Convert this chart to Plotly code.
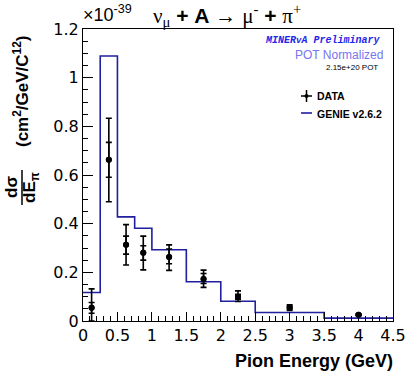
import plotly.graph_objects as go

# Histogram (GENIE v2.6.2) bin edges and values (x1e-39)
bin_edges = [0.0, 0.25, 0.5, 0.75, 1.0, 1.5, 2.0, 2.5, 3.5, 4.5]
genie_vals = [0.117, 1.089, 0.428, 0.381, 0.293, 0.161, 0.081, 0.035, 0.012]

# Data points
data_x = [0.125, 0.375, 0.625, 0.875, 1.25, 1.75, 2.25, 3.0, 4.0]
data_y = [0.054, 0.663, 0.313, 0.280, 0.263, 0.173, 0.100, 0.055, 0.026]
tot_up = [0.078, 0.170, 0.083, 0.069, 0.050, 0.036, 0.024, 0.012, 0.004]
tot_dn = [0.054, 0.173, 0.083, 0.070, 0.055, 0.035, 0.020, 0.012, 0.004]
stat_up = [0.022, 0.071, 0.036, 0.029, 0.033, 0.022, 0.010, 0.006, 0.002]
stat_dn = [0.022, 0.072, 0.038, 0.030, 0.028, 0.019, 0.010, 0.006, 0.002]

x_ticks = [0, 0.5, 1, 1.5, 2, 2.5, 3, 3.5, 4, 4.5]
y_ticks = [0, 0.2, 0.4, 0.6, 0.8, 1.0, 1.2]

hist_color = "#1f1fa0"
font_fam = "Liberation Sans, Arial, sans-serif"
tick_fam = "DejaVu Sans, Verdana, sans-serif"

# plot area in pixels
L, R, T, B = 83, 393, 29, 321
W, H = R - L, B - T


def px(x):
    return (x - L) / W


def py(y):
    return (B - y) / H


fig = go.Figure()
fig.add_trace(go.Scatter(
    x=bin_edges, y=genie_vals + [genie_vals[-1]], mode="lines",
    line=dict(shape="hv", color=hist_color, width=1.6), showlegend=False,
    hoverinfo="skip"))
fig.add_trace(go.Scatter(
    x=data_x, y=data_y, mode="markers",
    marker=dict(color="black", size=6),
    error_y=dict(type="data", symmetric=False, array=tot_up, arrayminus=tot_dn,
                 color="black", thickness=1.6, width=3),
    showlegend=False))
fig.add_trace(go.Scatter(
    x=data_x, y=data_y, mode="markers",
    marker=dict(color="black", size=6),
    error_y=dict(type="data", symmetric=False, array=stat_up, arrayminus=stat_dn,
                 color="black", thickness=1.6, width=3),
    showlegend=False))

annotations = [
    dict(text="×10<sup>-39</sup>", x=px(81), y=py(14), xref="paper", yref="paper",
         xanchor="left", yanchor="middle", showarrow=False,
         font=dict(size=18, family=font_fam, color="black")),
    dict(text="<span style='font-family:Liberation Serif'>ν<sub>μ</sub></span> <b>+ A</b> → "
              "<span style='font-family:Liberation Serif'>μ<sup>-</sup></span> <b>+</b> "
              "<span style='font-family:Liberation Serif'>π<sup>+</sup></span>",
         x=px(227), y=py(16), xref="paper", yref="paper", xanchor="center",
         yanchor="middle", showarrow=False,
         font=dict(size=21, family=font_fam, color="black")),
    dict(text="<b><i>MINER<span style='font-size:9px'>v</span>A Preliminary</i></b>",
         x=px(382), y=py(40), xref="paper", yref="paper", xanchor="right", yanchor="middle",
         showarrow=False, font=dict(size=10, family="Liberation Mono, Courier New, monospace",
                                    color="#2424e8")),
    dict(text="POT Normalized", x=px(385), y=py(55), xref="paper", yref="paper",
         xanchor="right", yanchor="middle", showarrow=False,
         font=dict(size=12, family=font_fam, color="#7676ee")),
    dict(text="2.15e+20 POT", x=px(380), y=py(67), xref="paper", yref="paper",
         xanchor="right", yanchor="middle", showarrow=False,
         font=dict(size=8, family=font_fam, color="black")),
    dict(text="<b>DATA</b>", x=px(315), y=py(96), xref="paper", yref="paper",
         xanchor="left", yanchor="middle", showarrow=False,
         font=dict(size=10.5, family=font_fam, color="black")),
    dict(text="<b>GENIE v2.6.2</b>", x=px(315), y=py(114), xref="paper", yref="paper",
         xanchor="left", yanchor="middle", showarrow=False,
         font=dict(size=10.5, family=font_fam, color="black")),
    dict(text="<b>Pion Energy (GeV)</b>", x=px(395), y=py(361), xref="paper", yref="paper",
         xanchor="right", yanchor="middle", showarrow=False,
         font=dict(size=18, family=font_fam, color="black")),
    dict(text="<b>(cm<sup>2</sup>/GeV/C<sup>12</sup>)</b>", x=px(21), y=py(91),
         xref="paper", yref="paper", xanchor="center", yanchor="middle",
         textangle=-90, showarrow=False,
         font=dict(size=17, family=font_fam, color="black")),
    dict(text="<b>dσ</b>", x=px(12), y=py(187), xref="paper", yref="paper",
         xanchor="center", yanchor="middle", textangle=-90, showarrow=False,
         font=dict(size=17, family=font_fam, color="black")),
    dict(text="<b>dE<sub>π</sub></b>", x=px(31), y=py(187), xref="paper", yref="paper",
         xanchor="center", yanchor="middle", textangle=-90, showarrow=False,
         font=dict(size=17, family=font_fam, color="black")),
]

shapes = [
    # fraction bar
    dict(type="line", xref="paper", yref="paper", x0=px(22), x1=px(22), y0=py(205), y1=py(170),
         line=dict(color="black", width=1.5)),
    # legend: data cross
    dict(type="line", xref="paper", yref="paper", x0=px(301), x1=px(312), y0=py(96), y1=py(96),
         line=dict(color="black", width=1.5)),
    dict(type="line", xref="paper", yref="paper", x0=px(306.5), x1=px(306.5), y0=py(90), y1=py(102),
         line=dict(color="black", width=1.5)),
    dict(type="circle", xref="paper", yref="paper", x0=px(304.5), x1=px(308.5), y0=py(98), y1=py(94),
         fillcolor="black", line=dict(color="black", width=0)),
    # legend: genie line
    dict(type="line", xref="paper", yref="paper", x0=px(301), x1=px(312), y0=py(113), y1=py(113),
         line=dict(color=hist_color, width=1.6)),
]

fig.update_layout(
    width=407, height=373, autosize=False,
    margin=dict(l=L, r=407 - R, t=T, b=373 - B, autoexpand=False),
    paper_bgcolor="white", plot_bgcolor="white",
    showlegend=False,
    annotations=annotations, shapes=shapes,
    font=dict(family=font_fam, color="black"),
)
fig.update_xaxes(
    range=[0, 4.5], tickvals=x_ticks, ticktext=[f"{v:g}" for v in x_ticks],
    ticks="inside", ticklen=9, tickwidth=1, tickcolor="black",
    minor=dict(dtick=0.1, ticks="inside", ticklen=5, tickcolor="black", tick0=0),
    showline=True, mirror=True, linecolor="black", linewidth=1,
    showgrid=False, zeroline=False, automargin=False,
    tickfont=dict(size=16, family=tick_fam, color="black"))
fig.update_yaxes(
    range=[0, 1.2], tickvals=y_ticks, ticktext=[f"{v:g}" for v in y_ticks],
    ticks="inside", ticklen=10, tickwidth=1, tickcolor="black",
    minor=dict(dtick=0.05, ticks="inside", ticklen=5, tickcolor="black", tick0=0),
    showline=True, mirror=True, linecolor="black", linewidth=1,
    showgrid=False, zeroline=False, automargin=False,
    tickfont=dict(size=16, family=tick_fam, color="black"))

fig.write_html("out.html")
